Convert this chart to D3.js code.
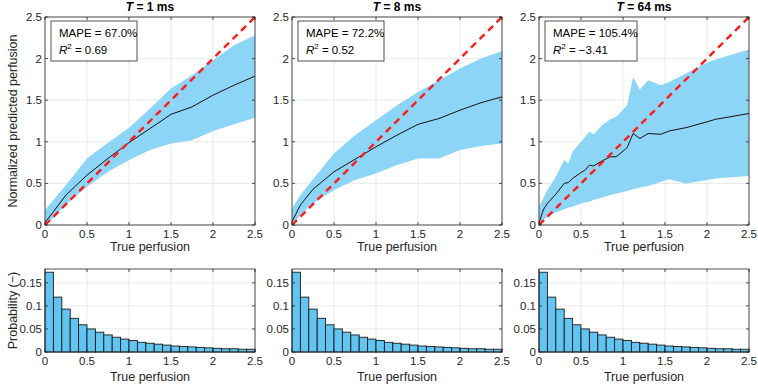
<!DOCTYPE html>
<html>
<head>
<meta charset="utf-8">
<script src="https://cdn.jsdelivr.net/npm/d3@7"></script>
<style>
  body { margin: 0; background: #fff; }
  svg { font-family: "Liberation Sans", Arial, sans-serif; }
</style>
</head>
<body>
<div id="chart"></div>
<script>
// panel titles / stats
const titles = ["1 ms", "8 ms", "64 ms"];
const mapes = ["67.0%", "72.2%", "105.4%"];
const r2s = ["0.69", "0.52", "\u22123.41"];

// T = 1 ms
const grid1 = [0, 0.1, 0.25, 0.5, 0.75, 1, 1.25, 1.5, 1.75, 2, 2.25, 2.5];
const mean1 = [0.03, 0.16, 0.36, 0.60, 0.80, 0.99, 1.16, 1.33, 1.42, 1.56, 1.68, 1.79];
const upper1 = [0.18, 0.30, 0.48, 0.80, 0.99, 1.17, 1.40, 1.64, 1.80, 1.98, 2.16, 2.28];
const lower1 = [0, 0.08, 0.25, 0.46, 0.64, 0.78, 0.90, 0.98, 1.02, 1.13, 1.21, 1.29];

// T = 8 ms
const grid2 = [0, 0.1, 0.25, 0.5, 0.75, 1, 1.25, 1.5, 1.75, 2, 2.25, 2.5];
const mean2 = [0.04, 0.24, 0.43, 0.64, 0.79, 0.94, 1.08, 1.21, 1.28, 1.38, 1.47, 1.54];
const upper2 = [0.20, 0.36, 0.55, 0.86, 1.08, 1.26, 1.44, 1.60, 1.74, 1.88, 2.00, 2.09];
const lower2 = [0, 0.12, 0.26, 0.42, 0.54, 0.62, 0.72, 0.80, 0.80, 0.90, 0.95, 0.98];

// T = 64 ms
const grid3 = [0, 0.05, 0.1, 0.2, 0.3, 0.35, 0.4, 0.5, 0.55, 0.6, 0.65, 0.75, 0.85, 0.92, 1.05, 1.12, 1.2, 1.3, 1.45, 1.55, 1.75, 2, 2.1, 2.5];
const mean3 = [0.02, 0.18, 0.26, 0.37, 0.50, 0.51, 0.56, 0.63, 0.66, 0.72, 0.71, 0.77, 0.82, 0.82, 0.93, 1.10, 1.04, 1.10, 1.09, 1.13, 1.17, 1.24, 1.27, 1.34];
const upper3 = [0.22, 0.32, 0.42, 0.58, 0.78, 0.74, 0.88, 1.00, 1.06, 1.12, 1.09, 1.20, 1.27, 1.30, 1.44, 1.78, 1.63, 1.74, 1.68, 1.72, 1.82, 1.95, 1.99, 2.11];
const lower3 = [0, 0.06, 0.10, 0.15, 0.19, 0.21, 0.22, 0.26, 0.27, 0.28, 0.30, 0.33, 0.36, 0.38, 0.41, 0.43, 0.45, 0.47, 0.52, 0.55, 0.50, 0.54, 0.56, 0.59];

// histogram of true perfusion (bin width 0.1)
const binEdges = d3.range(0, 2.5, 0.1);
const probs = [0.173, 0.119, 0.093, 0.073, 0.059, 0.050, 0.043, 0.037, 0.032, 0.028, 0.025, 0.021, 0.019, 0.017, 0.015, 0.013, 0.012, 0.011, 0.010, 0.009, 0.008, 0.007, 0.007, 0.006, 0.006];

const xTicks = [0, 0.5, 1, 1.5, 2, 2.5];
const yTicks = [0, 0.5, 1, 1.5, 2, 2.5];
const pTicks = [0, 0.05, 0.1, 0.15];

const panels = [
  { grid: grid1, mean: mean1, upper: upper1, lower: lower1 },
  { grid: grid2, mean: mean2, upper: upper2, lower: lower2 },
  { grid: grid3, mean: mean3, upper: upper3, lower: lower3 }
];

const W = 758, H = 385;
const lefts = [45, 292, 539];
const pw = 210;
const topBox = { y0: 17, y1: 225 };
const botBox = { y0: 269, y1: 352 };

const svg = d3.select("#chart").append("svg").attr("width", W).attr("height", H);

const fmt = d => d === 0 ? "0" : String(d);
const axisCol = "#262626";
const gridCol = "#e3e3e3";

function frame(g, x, y, xt, yt) {
  // grid
  g.append("g").selectAll("line").data(xt).join("line")
    .attr("x1", d => x(d)).attr("x2", d => x(d))
    .attr("y1", y.range()[0]).attr("y2", y.range()[1])
    .attr("stroke", gridCol).attr("stroke-width", 0.8);
  g.append("g").selectAll("line").data(yt).join("line")
    .attr("x1", x.range()[0]).attr("x2", x.range()[1])
    .attr("y1", d => y(d)).attr("y2", d => y(d))
    .attr("stroke", gridCol).attr("stroke-width", 0.8);
}

function axes(g, x, y, xt, yt) {
  const [xa, xb] = x.range();
  const [ya, yb] = y.range();
  const tl = 3;
  const ax = g.append("g");
  ax.append("rect").attr("x", xa).attr("y", yb).attr("width", xb - xa).attr("height", ya - yb)
    .attr("fill", "none").attr("stroke", axisCol).attr("stroke-width", 0.8);
  xt.forEach(d => {
    ax.append("line").attr("x1", x(d)).attr("x2", x(d)).attr("y1", ya).attr("y2", ya - tl).attr("stroke", axisCol).attr("stroke-width", 0.8);
    ax.append("line").attr("x1", x(d)).attr("x2", x(d)).attr("y1", yb).attr("y2", yb + tl).attr("stroke", axisCol).attr("stroke-width", 0.8);
  });
  yt.forEach(d => {
    ax.append("line").attr("x1", xa).attr("x2", xa + tl).attr("y1", y(d)).attr("y2", y(d)).attr("stroke", axisCol).attr("stroke-width", 0.8);
    ax.append("line").attr("x1", xb).attr("x2", xb - tl).attr("y1", y(d)).attr("y2", y(d)).attr("stroke", axisCol).attr("stroke-width", 0.8);
  });
  ax.append("g").selectAll("text").data(xt).join("text")
    .attr("x", d => x(d)).attr("y", ya + 13).attr("text-anchor", "middle")
    .attr("font-size", 11.5).attr("fill", axisCol).text(fmt);
  ax.append("g").selectAll("text").data(yt).join("text")
    .attr("x", xa - 3).attr("y", d => y(d) + 4).attr("text-anchor", "end")
    .attr("font-size", 11.5).attr("fill", axisCol).text(fmt);
}

panels.forEach((p, i) => {
  const x = d3.scaleLinear().domain([0, 2.5]).range([lefts[i], lefts[i] + pw]);
  const y = d3.scaleLinear().domain([0, 2.5]).range([topBox.y1, topBox.y0]);
  const g = svg.append("g");
  frame(g, x, y, xTicks, yTicks);

  const pts = p.grid.map((gx, k) => ({ x: gx, m: p.mean[k], lo: p.lower[k], hi: p.upper[k] }));
  g.append("path").datum(pts)
    .attr("fill", "#8dd5f6")
    .attr("d", d3.area().x(d => x(d.x)).y0(d => y(d.lo)).y1(d => y(d.hi)));
  g.append("path").datum(pts)
    .attr("fill", "none").attr("stroke", "#111").attr("stroke-width", 1)
    .attr("d", d3.line().x(d => x(d.x)).y(d => y(d.m)));
  g.append("path").datum([0, 2.5])
    .attr("fill", "none").attr("stroke", "#ff1a1a").attr("stroke-width", 2.4)
    .attr("stroke-dasharray", "7,5")
    .attr("d", d3.line().x(d => x(d)).y(d => y(d)));

  axes(g, x, y, xTicks, yTicks);

  // title
  const t = g.append("text").attr("x", x(1.25)).attr("y", 11).attr("text-anchor", "middle")
    .attr("font-size", 12).attr("font-weight", "bold").attr("fill", "#000");
  t.append("tspan").attr("font-style", "italic").text("T");
  t.append("tspan").text(" = " + titles[i]);

  // stats box
  const bw = i === 2 ? 92 : 86;
  const bx = x(0) + 6;
  g.append("rect").attr("x", bx).attr("y", 21).attr("width", bw).attr("height", 40)
    .attr("fill", "#fff").attr("stroke", axisCol).attr("stroke-width", 0.8);
  g.append("text").attr("x", bx + 8).attr("y", 37).attr("font-size", 11.5).attr("fill", "#000")
    .text("MAPE = " + mapes[i]);
  const r = g.append("text").attr("x", bx + 8).attr("y", 54).attr("font-size", 11.5).attr("fill", "#000");
  r.append("tspan").attr("font-style", "italic").text("R");
  r.append("tspan").attr("font-size", 8).attr("dy", -5).text("2");
  r.append("tspan").attr("dy", 5).text(" = " + r2s[i]);

  g.append("text").attr("x", x(1.25)).attr("y", 251).attr("text-anchor", "middle")
    .attr("font-size", 12.5).attr("fill", axisCol).text("True perfusion");

  // histogram
  const yb = d3.scaleLinear().domain([0, 0.18]).range([botBox.y1, botBox.y0]);
  const hg = svg.append("g");
  frame(hg, x, yb, xTicks, pTicks);
  hg.append("g").selectAll("rect").data(probs).join("rect")
    .attr("x", (d, k) => x(binEdges[k])).attr("width", (d, k) => x(binEdges[k] + 0.1) - x(binEdges[k]))
    .attr("y", d => yb(d)).attr("height", d => yb(0) - yb(d))
    .attr("fill", "#62c5f1").attr("stroke", "#1a1a1a").attr("stroke-width", 0.9);
  axes(hg, x, yb, xTicks, pTicks);
  hg.append("text").attr("x", x(1.25)).attr("y", 381).attr("text-anchor", "middle")
    .attr("font-size", 12.5).attr("fill", axisCol).text("True perfusion");
});

svg.append("text").attr("transform", `translate(17,${(topBox.y0 + topBox.y1) / 2}) rotate(-90)`)
  .attr("text-anchor", "middle").attr("font-size", 12.5).attr("fill", axisCol)
  .text("Normalized predicted perfusion");
svg.append("text").attr("transform", `translate(17,${(botBox.y0 + botBox.y1) / 2}) rotate(-90)`)
  .attr("text-anchor", "middle").attr("font-size", 12.5).attr("fill", axisCol)
  .text("Probability (\u2212)");
</script>
</body>
</html>
